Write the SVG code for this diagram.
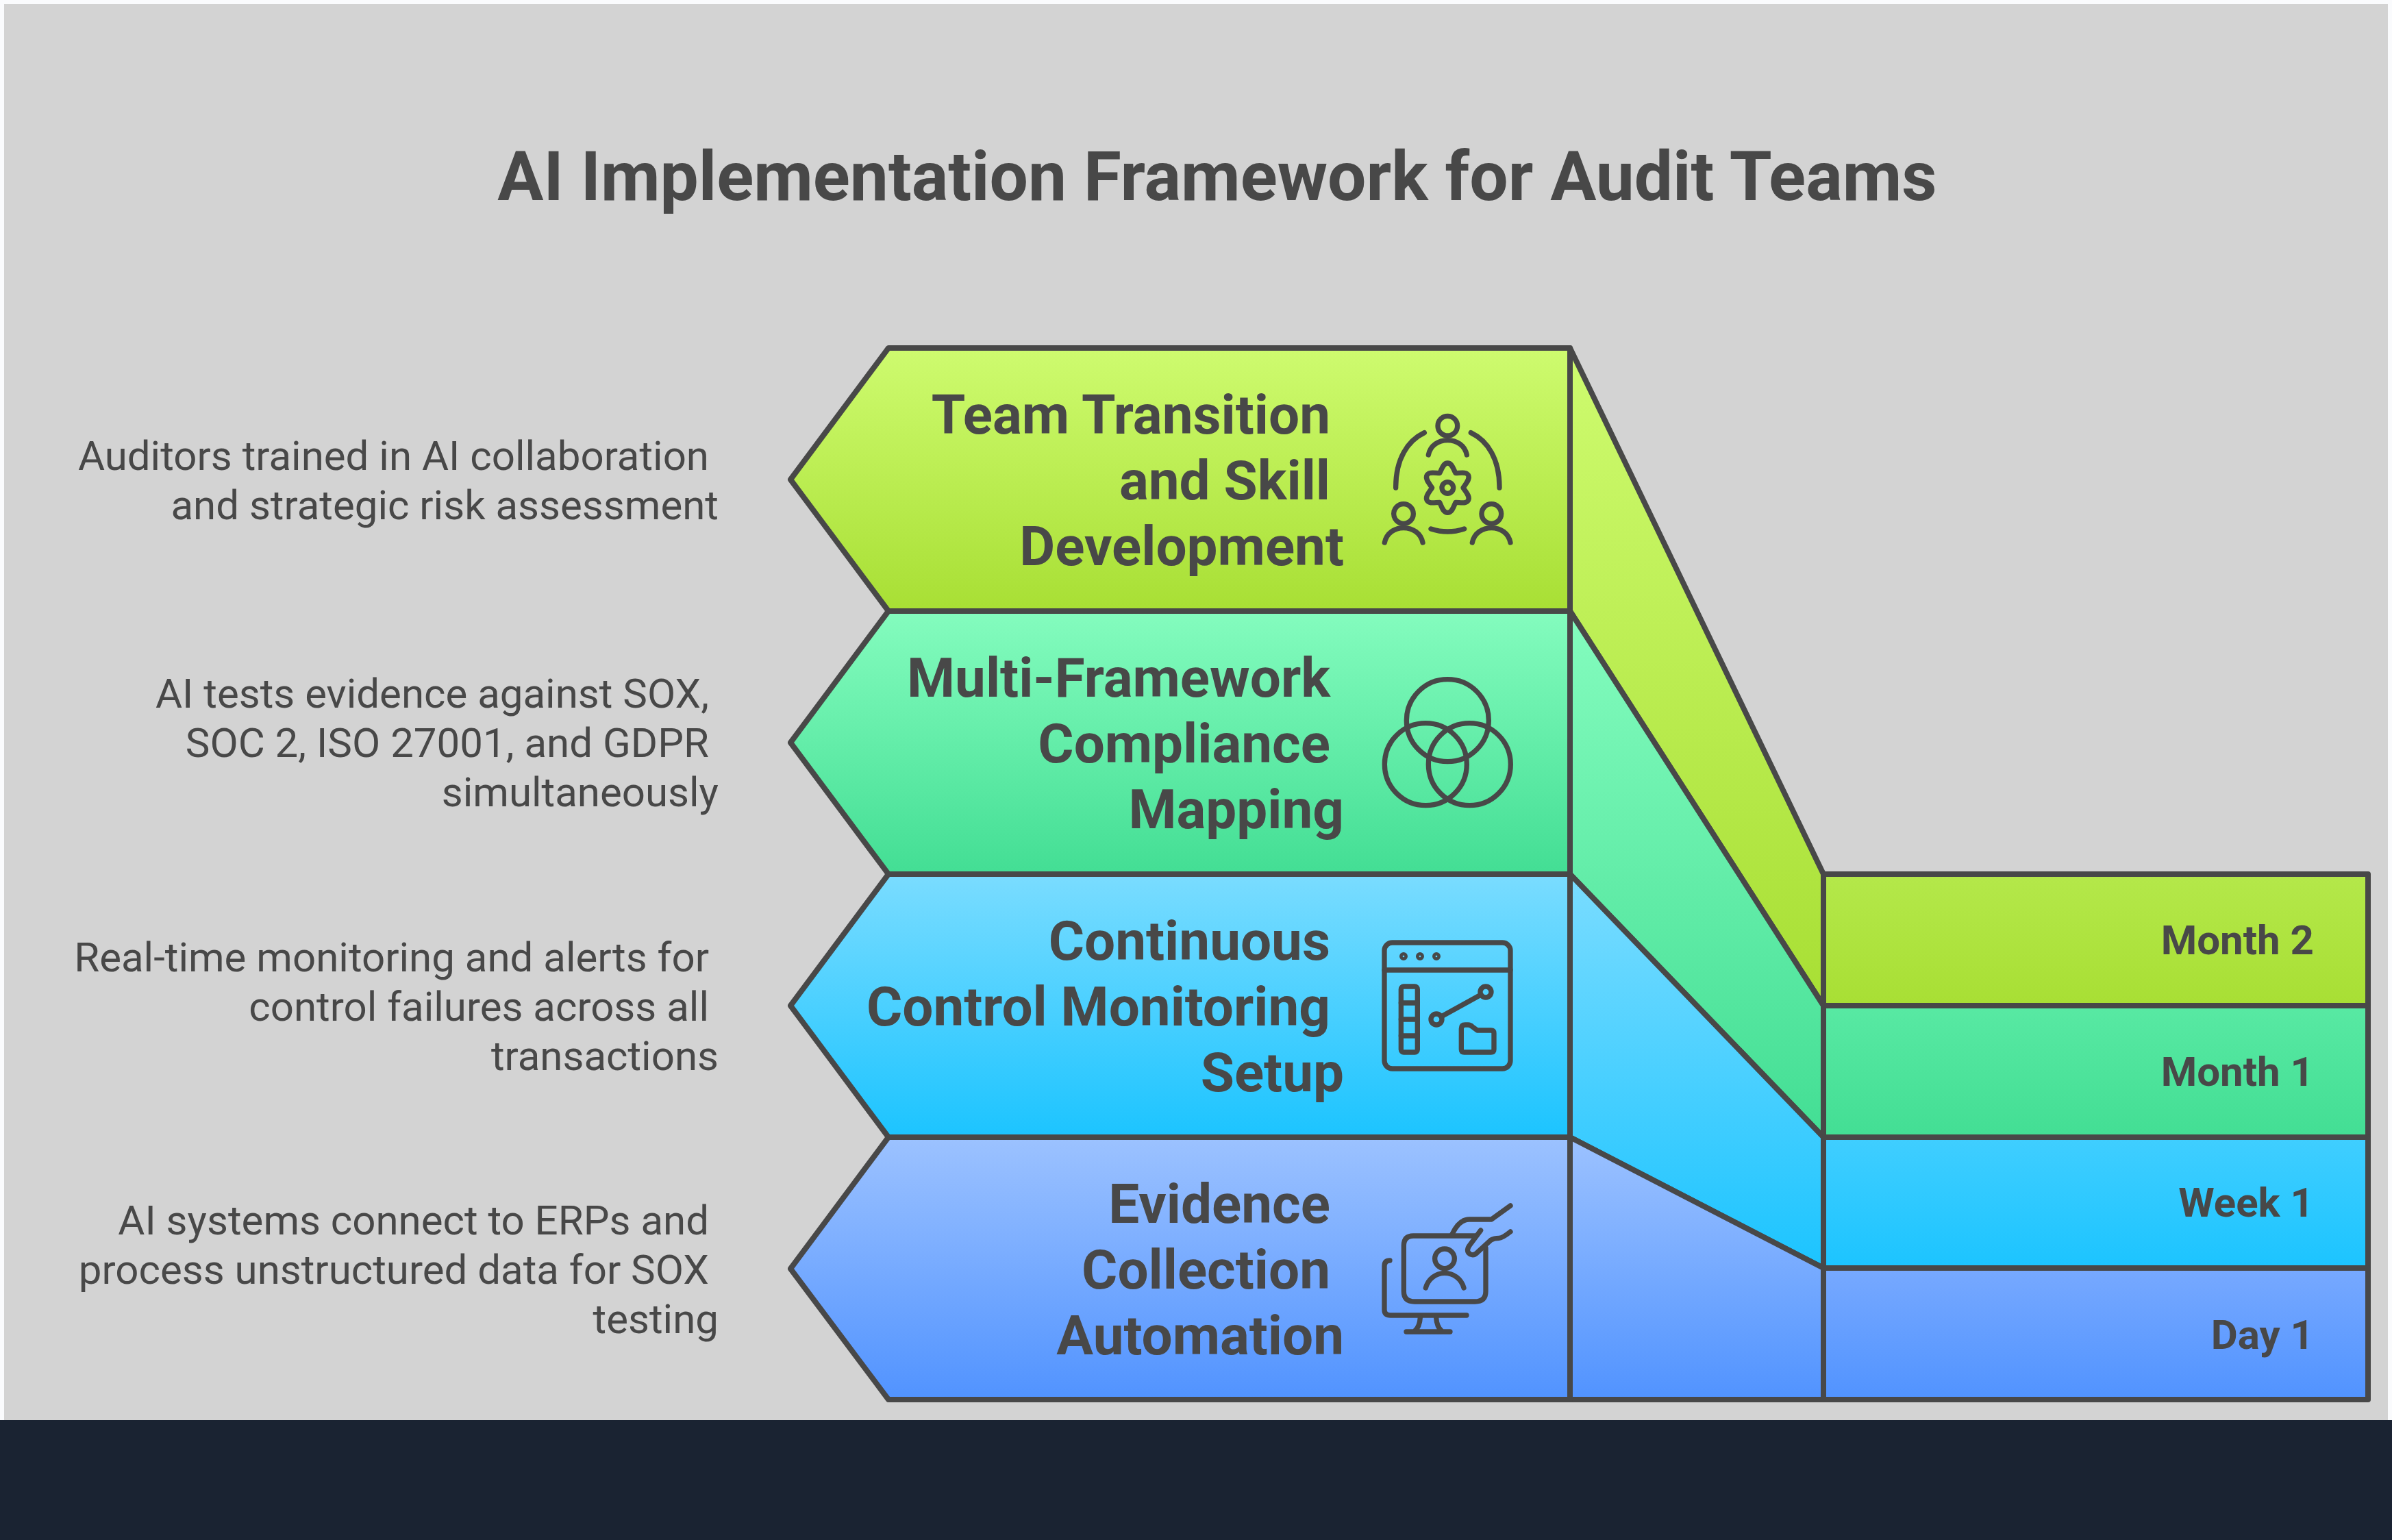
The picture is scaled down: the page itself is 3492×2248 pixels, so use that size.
<svg xmlns="http://www.w3.org/2000/svg" width="3492" height="2248" viewBox="0 0 3492 2248">
<style>
.s{stroke:#484848;stroke-width:8;stroke-linejoin:round}
.i{fill:none;stroke:#484848;stroke-width:22;stroke-linecap:round;stroke-linejoin:round}
text{font-family:Roboto,"Liberation Sans",sans-serif;fill:#484848}
.t{font-size:100px;font-weight:700;text-anchor:middle}
.h{font-size:80px;font-weight:700;text-anchor:end}
.d{font-size:60px;font-weight:400;text-anchor:end}
.m{font-size:60px;font-weight:700;text-anchor:end}
</style>
<defs>
<linearGradient id="g1" x1="0" y1="0" x2="0" y2="1"><stop offset="0" stop-color="#CEFB6F"/><stop offset="1" stop-color="#A8DF34"/></linearGradient>
<linearGradient id="g2" x1="0" y1="0" x2="0" y2="1"><stop offset="0" stop-color="#84FCBE"/><stop offset="1" stop-color="#43DE94"/></linearGradient>
<linearGradient id="g3" x1="0" y1="0" x2="0" y2="1"><stop offset="0" stop-color="#7ADCFF"/><stop offset="1" stop-color="#1CC4FF"/></linearGradient>
<linearGradient id="g4" x1="0" y1="0" x2="0" y2="1"><stop offset="0" stop-color="#9CC2FF"/><stop offset="1" stop-color="#5193FF"/></linearGradient>
<linearGradient id="r1" x1="0" y1="0" x2="0" y2="1"><stop offset="0" stop-color="#B4E84A"/><stop offset="1" stop-color="#A8DF34"/></linearGradient>
<linearGradient id="r2" x1="0" y1="0" x2="0" y2="1"><stop offset="0" stop-color="#58E9A3"/><stop offset="1" stop-color="#43DE94"/></linearGradient>
<linearGradient id="r3" x1="0" y1="0" x2="0" y2="1"><stop offset="0" stop-color="#40CEFF"/><stop offset="1" stop-color="#1CC4FF"/></linearGradient>
<linearGradient id="r4" x1="0" y1="0" x2="0" y2="1"><stop offset="0" stop-color="#77A9FF"/><stop offset="1" stop-color="#5193FF"/></linearGradient>
</defs>
<rect width="3492" height="2248" fill="#fafbfd"/>
<rect x="6" y="6" width="3480" height="2068" fill="#d3d3d3"/>
<rect y="2073" width="3492" height="175" fill="#1a2332"/>
<text class="t" x="1777" y="292">AI Implementation Framework for Audit Teams</text>

<g id="connectors">
<path class="s" fill="url(#g1)" d="M2292 508L2662 1276V1468L2292 892Z"/>
<path class="s" fill="url(#g2)" d="M2292 892L2662 1468V1660L2292 1276Z"/>
<path class="s" fill="url(#g3)" d="M2292 1276L2662 1660V1851L2292 1660Z"/>
<path class="s" fill="url(#g4)" d="M2292 1660L2662 1851V2043H2292Z"/>
</g>

<g id="node-team">
<path class="s" fill="url(#g1)" d="M1297 508H2292V892H1297L1154 700Z"/>
<text class="h" x="1942" y="633">Team Transition</text>
<text class="h" x="1942" y="729">and Skill</text>
<text class="h" x="1962" y="825">Development</text>
<g class="i" transform="translate(1980 560) scale(.3333)">
<circle cx="400" cy="185" r="43"/><path d="M316 312C325 270 360 248 400 248C440 248 475 270 484 312"/>
<circle cx="207" cy="570" r="43"/><path d="M124 696C133 654 168 632 207 632C247 632 282 654 291 696"/>
<circle cx="592" cy="570" r="43"/><path d="M508 696C517 654 552 632 592 632C632 632 666 654 675 696"/>
<path d="M298 215C225 250 172 330 173 456M502 215C575 250 628 330 627 456M327 636C375 652 425 652 473 636"/>
<path d="M400 348C420 348 425 375 435 392C455 392 480 385 490 400C500 418 480 438 468 456C480 475 500 495 490 512C480 528 455 520 435 520C425 540 420 565 400 565C380 565 375 540 365 520C345 520 320 528 310 512C300 495 320 475 332 456C320 438 300 418 310 400C320 385 345 392 365 392C375 375 380 348 400 348Z"/>
<circle cx="400" cy="456" r="25"/>
</g>
<text class="d" x="1035" y="686">Auditors trained in AI collaboration</text>
<text class="d" x="1049" y="758">and strategic risk assessment</text>
</g>

<g id="node-mapping">
<path class="s" fill="url(#g2)" d="M1297 892H2292V1276H1297L1154 1084Z"/>
<text class="h" x="1942" y="1017">Multi-Framework</text>
<text class="h" x="1942" y="1113">Compliance</text>
<text class="h" x="1962" y="1209">Mapping</text>
<g class="i" transform="translate(1980 960) scale(.3333)">
<circle cx="400" cy="275" r="180"/><circle cx="304" cy="467" r="180"/><circle cx="496" cy="467" r="180"/>
</g>
<text class="d" x="1035" y="1033">AI tests evidence against SOX,</text>
<text class="d" x="1035" y="1105">SOC 2, ISO 27001, and GDPR</text>
<text class="d" x="1049" y="1177">simultaneously</text>
</g>

<g id="node-monitoring">
<path class="s" fill="url(#g3)" d="M1297 1276H2292V1660H1297L1154 1468Z"/>
<text class="h" x="1942" y="1401">Continuous</text>
<text class="h" x="1942" y="1497">Control Monitoring</text>
<text class="h" x="1962" y="1593">Setup</text>
<g class="i" transform="translate(1980 1340) scale(.3333)">
<rect x="123" y="108" width="552" height="552" rx="35"/><path d="M123 228H675"/>
<circle cx="207" cy="168" r="7"/><circle cx="279" cy="168" r="7"/><circle cx="351" cy="168" r="7"/>
<rect x="196" y="300" width="72" height="288" rx="12"/><path d="M196 372H268M196 444H268M196 516H268"/>
<circle cx="351" cy="444" r="24"/><circle cx="567" cy="324" r="24"/><path d="M372 432L546 336"/>
<path d="M460 575V485Q460 468 477 468H490Q500 468 508 476L530 492H590Q603 492 603 505V575Q603 588 590 588H473Q460 588 460 575Z"/>
</g>
<text class="d" x="1035" y="1418">Real-time monitoring and alerts for</text>
<text class="d" x="1035" y="1490">control failures across all</text>
<text class="d" x="1049" y="1562">transactions</text>
</g>

<g id="node-evidence">
<path class="s" fill="url(#g4)" d="M1297 1660H2292V2043H1297L1154 1852Z"/>
<text class="h" x="1942" y="1785">Evidence</text>
<text class="h" x="1942" y="1881">Collection</text>
<text class="h" x="1962" y="1977">Automation</text>
<g class="i" transform="translate(1980 1730) scale(.3333)">
<path d="M420 222H250Q208 222 208 265V465Q208 510 255 510H520Q567 510 567 465V275M420 222H520"/>
<circle cx="387" cy="322" r="43"/><path d="M304 450C315 410 350 385 387 385C425 385 460 410 471 450"/>
<path d="M147 330Q123 330 123 355V545Q123 570 150 570H483"/>
<path d="M280 580Q278 620 255 640M350 580Q352 620 375 640M219 642H411"/>
<path d="M420 215Q450 150 495 150H592L675 90"/>
<path d="M545 198L495 265Q478 290 500 303Q515 310 530 295L590 240Q605 232 625 232Q640 232 675 204"/>
</g>
<text class="d" x="1035" y="1802">AI systems connect to ERPs and</text>
<text class="d" x="1035" y="1874">process unstructured data for SOX</text>
<text class="d" x="1049" y="1946">testing</text>
</g>

<g id="node-month2"><rect class="s" fill="url(#g1)" style="fill:url(#r1)" x="2662" y="1276" width="795" height="192"/><text class="m" x="3378" y="1393">Month 2</text></g>
<g id="node-month1"><rect class="s" style="fill:url(#r2)" x="2662" y="1468" width="795" height="192"/><text class="m" x="3378" y="1585">Month 1</text></g>
<g id="node-week1"><rect class="s" style="fill:url(#r3)" x="2662" y="1660" width="795" height="191"/><text class="m" x="3378" y="1776">Week 1</text></g>
<g id="node-day1"><rect class="s" style="fill:url(#r4)" x="2662" y="1851" width="795" height="192"/><text class="m" x="3378" y="1969">Day 1</text></g>
</svg>
